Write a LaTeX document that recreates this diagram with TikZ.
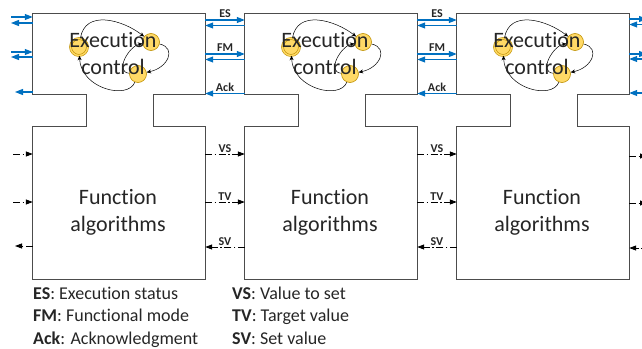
\documentclass[tikz,border=0pt]{standalone}
\usepackage{fontspec}
\setmainfont{Carlito}[Ligatures=NoCommon]
\usetikzlibrary{arrows.meta}
\definecolor{ecblue}{HTML}{0070C0}
\definecolor{stfill}{HTML}{FFD966}
\definecolor{stdraw}{HTML}{BF9000}
\tikzset{
    module-box/.style = {draw=none, minimum width=172pt, inner sep=0pt},
    module-line/.style = {draw=black!70, line width=1.3pt},
    module-text/.style = {font=\fontsize{22}{27}\selectfont, align=center, text=black!85},
    state/.style = {circle, draw=stdraw, fill=stfill, minimum size=17pt, inner sep=0pt, line width=0.6pt},
    init-state/.style = {state, double=stfill, double distance=1.4pt},
    trans/.style = {black, line width=0.5pt, -{Stealth[length=4.5pt,width=4pt]}},
    ctl-arrow/.style = {draw=ecblue, line width=1.2pt, -{Triangle[length=8pt,width=6pt]}, fill=ecblue},
    alg-arrow/.style = {black, line width=0.8pt, dash pattern=on 7pt off 2.5pt on 1.5pt off 2.5pt, -{Triangle[length=7pt,width=5pt]}},
    if-label/.style = {font=\fontsize{12}{14}\selectfont\bfseries, inner sep=1.5pt, above, text=black!85},
    legend/.style = {font=\fontsize{18}{22}\selectfont, anchor=base west, inner sep=0pt, text=black!85},
}

\begin{document}
\begin{tikzpicture}[x=1pt, y=-1pt]
\useasboundingbox (0,0) rectangle (642,348);
\clip (0,0) rectangle (642,348);

% the three modules
\foreach \i/\x in {1/33,2/245,3/457} {
    \node[module-box, minimum height=80pt] (ctrl\i) at (\x+86,54) {};
    \node[module-box, minimum height=152pt] (alg\i) at (\x+86,203) {};
    \draw[module-line] (ctrl\i.north west) -- (ctrl\i.north east) -- (ctrl\i.south east)
        -- ([xshift=-52pt]ctrl\i.south east) -- ([xshift=-52pt]alg\i.north east)
        -- (alg\i.north east) -- (alg\i.south east) -- (alg\i.south west) -- (alg\i.north west)
        -- ([xshift=54pt]alg\i.north west) -- ([xshift=54pt]ctrl\i.south west)
        -- (ctrl\i.south west) -- cycle;
    % state machine
    \node[init-state] (st-a\i) at (\x+46,47) {};
    \node[state] (st-b\i) at (\x+118,42) {};
    \node[state] (st-c\i) at (\x+105,74) {};
    \draw[trans] (st-a\i) .. controls +(6,-38) and +(-28,-22) .. (st-b\i);
    \draw[trans] (st-b\i) .. controls +(26,6) and +(30,-6) .. (st-c\i);
    \draw[trans] (st-c\i) .. controls +(-24,-2) and +(-22,4) .. (st-b\i);
    \draw[trans] (st-c\i) .. controls +(-10,26) and +(2,42) .. (st-a\i);
    \node[module-text] (ect\i) at (\x+80,53.5) {Execution\\control};
    \node[module-text] (fat\i) at (\x+85,212) {Function\\algorithms};
}

% links between neighbouring modules
\foreach \i/\j in {1/2,2/3} {
    \draw[ctl-arrow] (ctrl\i.east |- 0,20) -- node[if-label] {ES} (ctrl\j.west |- 0,20);
    \draw[ctl-arrow] (ctrl\j.west |- 0,25.5) -- (ctrl\i.east |- 0,25.5);
    \draw[ctl-arrow] (ctrl\i.east |- 0,54) -- node[if-label] {FM} (ctrl\j.west |- 0,54);
    \draw[ctl-arrow] (ctrl\j.west |- 0,59.5) -- (ctrl\i.east |- 0,59.5);
    \draw[ctl-arrow] (ctrl\j.west |- 0,93.5) -- node[if-label] {Ack} (ctrl\i.east |- 0,93.5);
    \draw[alg-arrow] (alg\i.east |- 0,154) -- node[if-label] {VS} (alg\j.west |- 0,154);
    \draw[alg-arrow] (alg\i.east |- 0,202) -- node[if-label] {TV} (alg\j.west |- 0,202);
    \draw[alg-arrow] (alg\j.west |- 0,247) -- node[if-label] {SV} (alg\i.east |- 0,247);
}

% stubs at the left
\coordinate (es-in) at (11,17);
\coordinate (es-out) at (11,23);
\coordinate (fm-in) at (11,52);
\coordinate (fm-out) at (11,57);
\coordinate (ack-out) at (15,92);
\coordinate (vs-in) at (13,154);
\coordinate (tv-in) at (13,202);
\coordinate (sv-out) at (15,246);
\draw[ctl-arrow] (es-in) -- (ctrl1.west |- es-in);
\draw[ctl-arrow] (ctrl1.west |- es-out) -- (es-out);
\draw[ctl-arrow] (fm-in) -- (ctrl1.west |- fm-in);
\draw[ctl-arrow] (ctrl1.west |- fm-out) -- (fm-out);
\draw[ctl-arrow] (ctrl1.west |- ack-out) -- (ack-out);
\draw[alg-arrow] (vs-in) -- (alg1.west |- vs-in);
\draw[alg-arrow] (tv-in) -- (alg1.west |- tv-in);
\draw[alg-arrow] (alg1.west |- sv-out) -- (sv-out);

% stubs at the right
\coordinate (es-next) at (647,19);
\coordinate (es-back) at (652,24.5);
\coordinate (fm-next) at (647,54);
\coordinate (fm-back) at (652,59);
\coordinate (ack-back) at (652,93);
\coordinate (vs-next) at (647,156);
\coordinate (tv-next) at (647,203);
\coordinate (sv-back) at (652,248);
\draw[ctl-arrow] (ctrl3.east |- es-next) -- (es-next);
\draw[ctl-arrow] (es-back) -- (ctrl3.east |- es-back);
\draw[ctl-arrow] (ctrl3.east |- fm-next) -- (fm-next);
\draw[ctl-arrow] (fm-back) -- (ctrl3.east |- fm-back);
\draw[ctl-arrow] (ack-back) -- (ctrl3.east |- ack-back);
\draw[alg-arrow] (alg3.east |- vs-next) -- (vs-next);
\draw[alg-arrow] (alg3.east |- tv-next) -- (tv-next);
\draw[alg-arrow] (sv-back) -- (alg3.east |- sv-back);

% legend
\node[legend] (lg-es) at (33,299) {\textbf{ES}: Execution status};
\node[legend] (lg-fm) at (33,321.5) {\textbf{FM}: Functional mode};
\node[legend] (lg-ack) at (33,344) {\textbf{Ack}: Acknowledgment};
\node[legend] (lg-vs) at (232,299) {\textbf{VS}: Value to set};
\node[legend] (lg-tv) at (232,321.5) {\textbf{TV}: Target value};
\node[legend] (lg-sv) at (232,344) {\textbf{SV}: Set value};
\end{tikzpicture}
\end{document}
